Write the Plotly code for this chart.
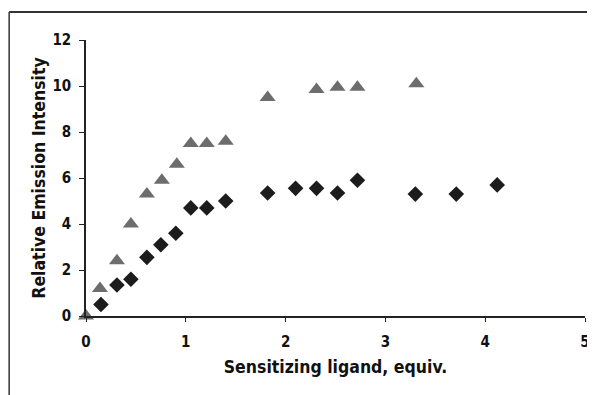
import plotly.graph_objects as go

tri_x = [0, 0.14, 0.31, 0.45, 0.61, 0.76, 0.91, 1.05, 1.21, 1.40, 1.82, 2.31, 2.52, 2.72, 3.31]
tri_y = [0, 1.2, 2.4, 4.0, 5.3, 5.9, 6.6, 7.5, 7.5, 7.6, 9.5, 9.85, 9.95, 9.95, 10.1]

dia_x = [0.15, 0.31, 0.45, 0.61, 0.75, 0.90, 1.05, 1.21, 1.40, 1.82, 2.10, 2.31, 2.52, 2.72, 3.30, 3.71, 4.12]
dia_y = [0.5, 1.35, 1.6, 2.55, 3.1, 3.6, 4.7, 4.7, 5.0, 5.35, 5.55, 5.55, 5.35, 5.9, 5.3, 5.3, 5.7]

x_ticks = [0, 1, 2, 3, 4, 5]
y_ticks = [0, 2, 4, 6, 8, 10, 12]

FONT = "DejaVu Sans Condensed, Liberation Sans, Arial, sans-serif"

fig = go.Figure()
fig.add_trace(go.Scatter(x=tri_x, y=tri_y, mode="markers",
                         marker=dict(symbol="triangle-up", size=14, color="#6d6d6d"),
                         cliponaxis=False, showlegend=False))
fig.add_trace(go.Scatter(x=dia_x, y=dia_y, mode="markers",
                         marker=dict(symbol="diamond", size=12, color="#1c1c1c"),
                         cliponaxis=False, showlegend=False))

fig.update_layout(
    width=595, height=395,
    margin=dict(l=78, r=18, t=32, b=87),
    paper_bgcolor="white", plot_bgcolor="white",
    font=dict(family=FONT, color="#111111"),
    xaxis=dict(range=[0, 5], tickvals=x_ticks, showgrid=False, zeroline=False,
               showline=True, linecolor="#222222", linewidth=1.5,
               ticks="outside", ticklen=4, tickcolor="#222222", tickwidth=1.2,
               ticklabelstandoff=7,
               tickfont=dict(size=15, family=FONT, weight="bold"),
               title=dict(text="<b>Sensitizing ligand, equiv.</b>", font=dict(size=17.5, family=FONT), standoff=11)),
    yaxis=dict(range=[0, 12], tickvals=y_ticks, showgrid=False, zeroline=False,
               showline=True, linecolor="#222222", linewidth=1.5,
               ticks="outside", ticklen=5, tickcolor="#222222", tickwidth=1.2,
               ticklabelstandoff=5,
               tickfont=dict(size=15, family=FONT, weight="bold"),
               title=dict(text="<b>Relative Emission Intensity</b>", font=dict(size=17.5, family=FONT), standoff=2)),
    shapes=[
        dict(type="line", xref="paper", yref="paper", x0=-0.154, x1=1.06, y0=1.101, y1=1.101,
             line=dict(color="#333333", width=2)),
        dict(type="line", xref="paper", yref="paper", x0=-0.154, x1=-0.154, y0=1.101, y1=-0.35,
             line=dict(color="#333333", width=1.5)),
    ],
)

fig.write_html("out.html")
